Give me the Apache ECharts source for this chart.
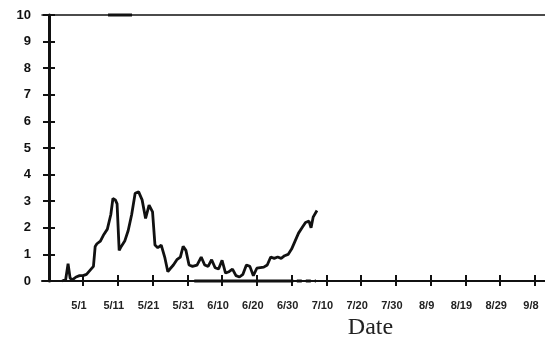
<!DOCTYPE html>
<html>
<head>
<meta charset="utf-8">
<script src="https://cdn.jsdelivr.net/npm/echarts@6/dist/echarts.min.js"></script>
<style>html,body{margin:0;padding:0;background:#fff}#c{width:545px;height:341px}</style>
</head>
<body>
<div id="c"></div>
<script>
// Days counted from 5/1 (day 0)
var tickDays = [0,10,20,30,40,50,60,70,80,90,100,110,120,130];
var tickLabels = ["5/1","5/11","5/21","5/31","6/10","6/20","6/30","7/10","7/20","7/30","8/9","8/19","8/29","9/8"];
var yTicks = [0,1,2,3,4,5,6,7,8,9,10];

var mainDays = [-6,-5,-4.3,-3.7,-3,-2,-1,0,1,2,3,3.5,4,5,6,7,8,8.6,9.3,9.8,10.4,11,12,13,14,15,16,17,18,19,20,20.7,21.5,22.5,23.5,24.4,25,26,27,28,28.8,29.6,30.5,31.5,32.8,34,35,36,37,38,39,40,41,42,43,44,45,46,47,48,49,50,51,52,53,54,55,56,57,58,59,60,61,62,63,64,65,65.6,66.2,67.3];
var mainValues = [0.0,0.05,0.65,0.1,0.05,0.15,0.2,0.2,0.25,0.4,0.55,1.3,1.4,1.5,1.75,1.95,2.5,3.1,3.05,2.9,1.15,1.3,1.5,1.9,2.5,3.3,3.35,3.05,2.35,2.85,2.6,1.35,1.25,1.35,0.9,0.35,0.45,0.6,0.8,0.9,1.3,1.15,0.6,0.55,0.6,0.9,0.6,0.55,0.8,0.5,0.45,0.78,0.3,0.35,0.45,0.2,0.15,0.25,0.6,0.55,0.2,0.48,0.5,0.52,0.6,0.9,0.85,0.9,0.85,0.95,1.0,1.2,1.5,1.8,2.0,2.2,2.25,2.0,2.4,2.65];

var zeroDays = [32, 60.5];
var zeroValues = [0, 0];
var zeroDashDays = [61.5, 67];
var zeroDashValues = [0, 0];
var offScaleDays = [7.2, 14.1];
var offScaleValues = [10, 10];

function pairs(xs, ys){ return xs.map(function(x,i){ return [x, ys[i]]; }); }

var chart = echarts.init(document.getElementById('c'), null, {renderer:'canvas'});
var xMin = -11.8, xMax = 132.9;
var gridCfg = {left: 42, right: 0, top: 15, bottom: 60, containLabel: false, outerBoundsMode: 'none'};
chart.setOption({
  animation: false,
  backgroundColor: '#fff',
  grid: [Object.assign({}, gridCfg), Object.assign({}, gridCfg)],
  xAxis: [
    {
      gridIndex: 0, type: 'value', min: xMin, max: xMax, position: 'bottom',
      axisLine: {show: true, onZero: false, lineStyle: {color: '#111', width: 2}},
      axisTick: {show: true, inside: false, length: 5, lineStyle: {color: '#111', width: 2}, customValues: tickDays},
      axisLabel: {
        show: true, customValues: tickDays, margin: 19, padding: [0, 8, 0, 0],
        fontFamily: 'Liberation Sans', fontWeight: 'bold', fontSize: 11, color: '#222',
        formatter: function(v){ var i = tickDays.indexOf(Math.round(v)); return i >= 0 ? tickLabels[i] : ''; }
      },
      splitLine: {show: false},
      name: 'Date', nameLocation: 'middle', nameGap: 34,
      nameTextStyle: {fontFamily: 'Liberation Serif', fontSize: 24, color: '#222', padding: [0, 0, 0, 154]}
    },
    {
      gridIndex: 0, type: 'value', min: xMin, max: xMax, position: 'top',
      axisLine: {show: true, onZero: false, lineStyle: {color: '#111', width: 1.5}},
      axisTick: {show: false}, axisLabel: {show: false}, splitLine: {show: false}
    },
    {
      gridIndex: 1, type: 'value', min: xMin, max: xMax, position: 'bottom',
      axisLine: {show: false, onZero: false},
      axisTick: {show: true, inside: true, length: 6, lineStyle: {color: '#111', width: 2}, customValues: tickDays},
      axisLabel: {show: false}, splitLine: {show: false}
    }
  ],
  yAxis: [
    {
      gridIndex: 0, type: 'value', min: 0, max: 10, interval: 1, position: 'left', offset: -7,
      axisLine: {show: true, onZero: false, lineStyle: {color: '#111', width: 3}},
      axisTick: {show: true, inside: false, length: 6, lineStyle: {color: '#111', width: 2}},
      axisLabel: {show: true, margin: 18, fontFamily: 'Liberation Sans', fontWeight: 'bold', fontSize: 13, color: '#111',
        formatter: function(v){ return yTicks.indexOf(v) >= 0 ? String(v) : ''; }},
      splitLine: {show: false}
    },
    {
      gridIndex: 1, type: 'value', min: 0, max: 10, interval: 1, position: 'left', offset: -7,
      axisLine: {show: false, onZero: false},
      axisTick: {show: true, inside: true, length: 6, lineStyle: {color: '#111', width: 2}},
      axisLabel: {show: false}, splitLine: {show: false}
    }
  ],
  series: [
    {type: 'line', xAxisIndex: 0, yAxisIndex: 0, data: pairs(mainDays, mainValues), showSymbol: false, symbol: 'none',
      lineStyle: {color: '#111', width: 2.8}, clip: false},
    {type: 'line', xAxisIndex: 0, yAxisIndex: 0, data: pairs(zeroDays, zeroValues), symbol: 'none',
      lineStyle: {color: '#111', width: 3}, clip: false},
    {type: 'line', xAxisIndex: 0, yAxisIndex: 0, data: pairs(zeroDashDays, zeroDashValues), symbol: 'none',
      lineStyle: {color: '#111', width: 3, type: [5, 4]}, clip: false},
    {type: 'line', xAxisIndex: 0, yAxisIndex: 0, data: pairs(offScaleDays, offScaleValues), symbol: 'none',
      lineStyle: {color: '#111', width: 3}, clip: false}
  ]
});
</script>
</body>
</html>
